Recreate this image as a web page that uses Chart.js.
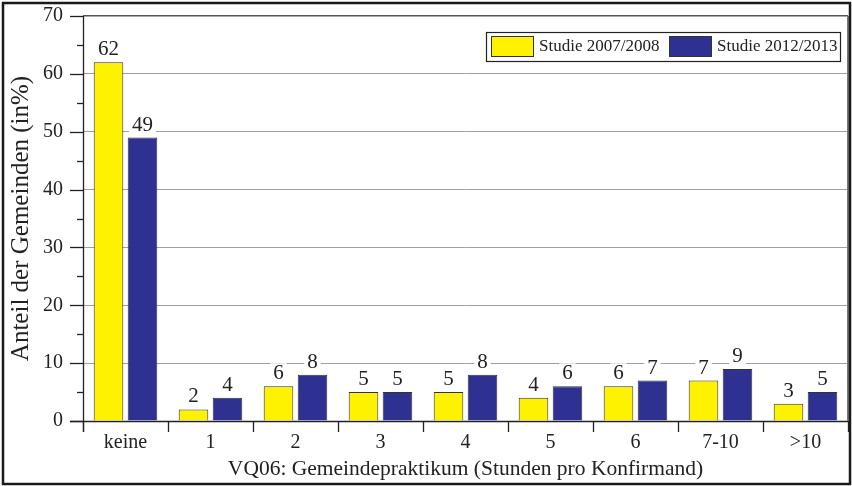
<!DOCTYPE html>
<html>
<head>
<meta charset="utf-8">
<script src="https://cdn.jsdelivr.net/npm/chart.js@4/dist/chart.umd.min.js"></script>
<style>
  html, body { margin: 0; padding: 0; background: #fff; }
  #wrap { width: 852px; height: 486px; }
</style>
</head>
<body>
<div id="wrap"><canvas id="chart" width="852" height="486"></canvas></div>
<script>
const categories = ['keine', '1', '2', '3', '4', '5', '6', '7-10', '>10'];
const study2008 = [62, 2, 6, 5, 5, 4, 6, 7, 3];
const study2013 = [49, 4, 8, 5, 8, 6, 7, 9, 5];
const seriesLabels = ['Studie 2007/2008', 'Studie 2012/2013'];

const YELLOW = '#fff200';
const BLUE = '#2e3192';
const EDGE = '#333333';
const GRID = '#a0a0a0';
const FONT = '"Liberation Serif", "DejaVu Serif", serif';

// axis lines, tick marks, legend box, value labels and outer frame
const decorations = {
  id: 'decorations',
  beforeDatasetsDraw(chart) {
    const { ctx, chartArea: a, scales: { y } } = chart;
    ctx.save();
    ctx.strokeStyle = '#222';
    ctx.lineWidth = 1.3;
    // y axis ticks
    for (let v = 0; v <= 70; v += 5) {
      const py = Math.round(y.getPixelForValue(v)) + 0.5;
      const len = v % 10 === 0 ? 13 : 6;
      ctx.beginPath();
      ctx.moveTo(a.left - len, py);
      ctx.lineTo(a.left, py);
      ctx.stroke();
    }
    // x axis ticks at category boundaries
    for (let i = 0; i <= categories.length; i++) {
      const px = Math.round(a.left + (a.right - a.left) * i / categories.length) + 0.5;
      ctx.beginPath();
      ctx.moveTo(px, a.bottom);
      ctx.lineTo(px, a.bottom + 11);
      ctx.stroke();
    }
    // axes
    ctx.beginPath();
    ctx.moveTo(a.left + 0.5, a.top);
    ctx.lineTo(a.left + 0.5, a.bottom + 11);
    ctx.moveTo(a.left - 13, Math.round(a.bottom) + 0.5);
    ctx.lineTo(a.right, Math.round(a.bottom) + 0.5);
    ctx.stroke();
    ctx.restore();
  },
  afterDatasetsDraw(chart) {
    const { ctx } = chart;
    ctx.save();
    ctx.font = '21px ' + FONT;
    ctx.textAlign = 'center';
    ctx.textBaseline = 'alphabetic';
    chart.data.datasets.forEach((ds, di) => {
      chart.getDatasetMeta(di).data.forEach((bar, i) => {
        const txt = String(ds.data[i]);
        const w = ctx.measureText(txt).width;
        const base = bar.y - 7;
        ctx.fillStyle = '#fff';
        ctx.fillRect(bar.x - w / 2 - 3, base - 16, w + 6, 18);
        ctx.fillStyle = '#222';
        ctx.fillText(txt, bar.x, base);
      });
    });

    // legend
    const lx = 486, ly = 32, lw = 354, lh = 29;
    ctx.fillStyle = '#fff';
    ctx.fillRect(lx, ly, lw, lh);
    ctx.strokeStyle = '#222';
    ctx.lineWidth = 1.2;
    ctx.strokeRect(lx + 0.5, ly + 0.5, lw, lh);
    ctx.font = '17px ' + FONT;
    ctx.textAlign = 'left';
    ctx.textBaseline = 'middle';
    const itemX = [491, 669];
    chart.data.datasets.forEach((ds, di) => {
      ctx.fillStyle = ds.backgroundColor;
      ctx.fillRect(itemX[di], 36, 42, 20);
      ctx.strokeStyle = EDGE;
      ctx.lineWidth = 1;
      ctx.strokeRect(itemX[di] + 0.5, 36.5, 42, 20);
      ctx.fillStyle = '#222';
      ctx.fillText(ds.label, itemX[di] + 48, 47);
    });

    // plot right edge and outer frame
    const a = chart.chartArea;
    ctx.strokeStyle = '#777';
    ctx.lineWidth = 2;
    ctx.beginPath();
    ctx.moveTo(a.right, a.top);
    ctx.lineTo(a.right, a.bottom);
    ctx.stroke();
    ctx.strokeStyle = '#1a1a1a';
    ctx.lineWidth = 2.5;
    ctx.strokeRect(3, 3, 847, 481);
    ctx.restore();
  }
};

new Chart(document.getElementById('chart'), {
  type: 'bar',
  data: {
    labels: categories,
    datasets: [
      { label: seriesLabels[0], data: study2008, backgroundColor: YELLOW, borderColor: EDGE, borderWidth: 1 },
      { label: seriesLabels[1], data: study2013, backgroundColor: BLUE, borderColor: EDGE, borderWidth: 1 },
    ],
  },
  options: {
    responsive: false,
    animation: false,
    categoryPercentage: 0.8,
    barPercentage: 0.87,
    layout: { padding: { left: 0, top: 16, right: 4, bottom: 0 } },
    plugins: {
      legend: { display: false },
      tooltip: { enabled: false },
    },
    scales: {
      x: {
        grid: { display: false, drawTicks: false },
        border: { display: false },
        ticks: { color: '#222', font: { family: FONT, size: 20 }, padding: 10 },
        title: {
          display: true,
          text: 'VQ06: Gemeindepraktikum (Stunden pro Konfirmand)',
          color: '#222',
          font: { family: FONT, size: 21.5 },
          padding: { top: 0, bottom: 4 },
        },
        afterFit(scale) {
          scale.height = 65;
          scale.paddingLeft = 0;
          scale.paddingRight = 0;
        },
      },
      y: {
        min: 0,
        max: 70,
        ticks: {
          stepSize: 5,
          color: '#222',
          font: { family: FONT, size: 20 },
          padding: 20,
          callback: v => (v % 10 === 0 ? v : ''),
        },
        grid: {
          drawTicks: false,
          color: c => {
            const v = c.tick.value;
            if (v === 0 || v % 10 !== 0) return 'rgba(0,0,0,0)';
            return v === 70 ? '#555' : GRID;
          },
          lineWidth: c => (c.tick.value === 70 ? 1.5 : 1),
        },
        border: { display: false },
        title: {
          display: true,
          text: 'Anteil der Gemeinden (in%)',
          color: '#222',
          font: { family: FONT, size: 25 },
          padding: { top: 6, bottom: 0 },
        },
        afterFit(scale) {
          scale.width = 83;
          scale.paddingTop = 0;
          scale.paddingBottom = 0;
        },
      },
    },
  },
  plugins: [decorations],
});
</script>
</body>
</html>
